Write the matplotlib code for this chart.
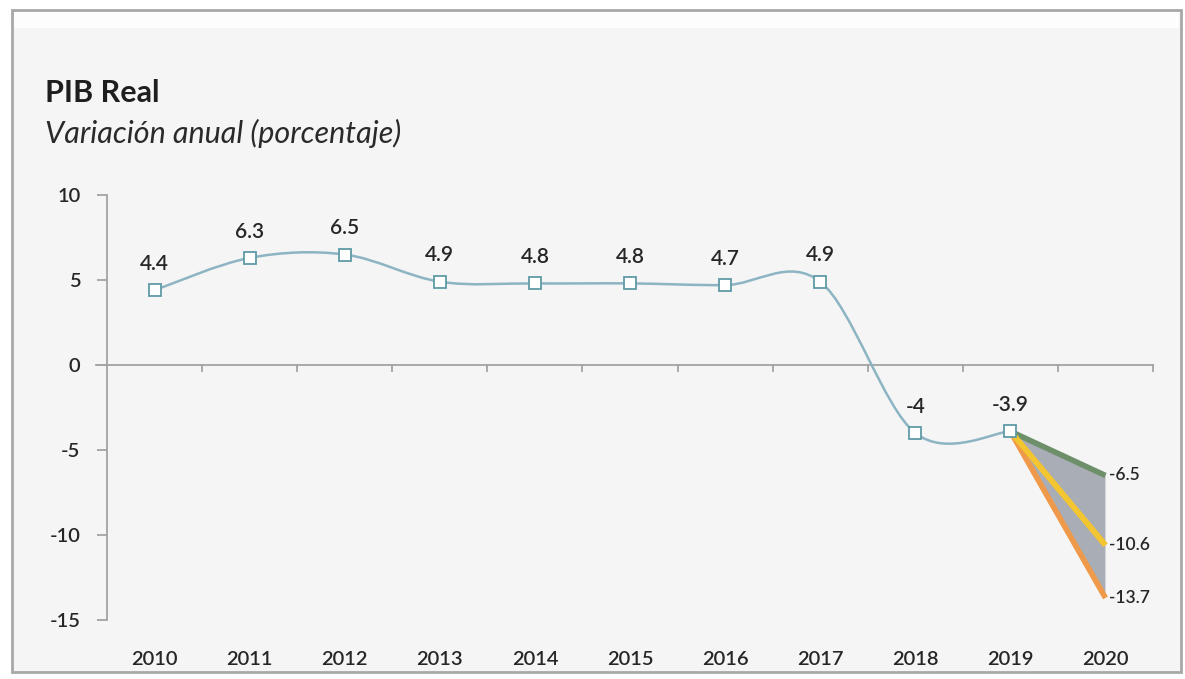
import matplotlib
matplotlib.use("Agg")
import matplotlib.pyplot as plt
from matplotlib.path import Path
from matplotlib.patches import PathPatch, Rectangle, Polygon
import numpy as np

# ---- data ----
years = ["2010", "2011", "2012", "2013", "2014", "2015", "2016", "2017", "2018", "2019", "2020"]
pib = [4.4, 6.3, 6.5, 4.9, 4.8, 4.8, 4.7, 4.9, -4.0, -3.9]
labels = ["4.4", "6.3", "6.5", "4.9", "4.8", "4.8", "4.7", "4.9", "-4", "-3.9"]
scen_2020 = [-6.5, -10.6, -13.7]
scen_labels = ["-6.5", "-10.6", "-13.7"]
scen_colors = ["#6d8f6a", "#f2c531", "#ef9a4a"]
yticks = [10, 5, 0, -5, -10, -15]

W, H = 1185, 679
fig = plt.figure(figsize=(W / 100, H / 100), dpi=100, facecolor="white")

# panel frame
fig.patches.append(Rectangle((12 / W, 1 - 672 / H), (1181 - 12) / W, (672 - 10) / H,
                             transform=fig.transFigure, facecolor="#f5f5f5",
                             edgecolor="#a8a8a8", lw=2.0, zorder=-10))
fig.patches.append(Rectangle((14 / W, 1 - 28 / H), (1179 - 14) / W, (28 - 12) / H,
                             transform=fig.transFigure, facecolor="#fdfdfd",
                             edgecolor="none", zorder=-9))

ax = fig.add_axes([107 / W, 1 - 620 / H, (1153 - 107) / W, (620 - 195) / H])
ax.set_zorder(1)
ax.set_facecolor("none")
ax.set_xlim(-0.5, 10.5)
ax.set_ylim(-15, 10)

font = "Lato"
wt = "semibold"
txt_col = "#262626"
axis_col = "#a3a3a3"

# spines
for s in ["top", "right", "bottom"]:
    ax.spines[s].set_visible(False)
ax.spines["left"].set_color(axis_col)
ax.spines["left"].set_linewidth(1.3)

ax.set_yticks(yticks)
ax.set_yticklabels([str(v) for v in yticks], fontsize=14.5, fontfamily=font,
                   fontweight=wt, color=txt_col)
ax.tick_params(axis="y", length=7, width=1.3, color=axis_col, pad=12)
x = np.arange(len(years))
ax.set_xticks(x)
ax.set_xticklabels(years, fontsize=14.5, fontfamily=font, fontweight=wt, color=txt_col)
ax.tick_params(axis="x", length=0, pad=22)

# zero line with boundary ticks
ax.plot([-0.615, 10.5], [0, 0], color=axis_col, lw=1.3, clip_on=False, zorder=2)
for b in np.arange(0.5, 10.6, 1.0):
    ax.plot([b, b], [0, -0.38], color=axis_col, lw=1.3, clip_on=False, zorder=2)

# smooth curve (Catmull-Rom -> cubic Bezier)
xs = x[:len(pib)].astype(float)
ys = np.array(pib)
verts = [(xs[0], ys[0])]
codes = [Path.MOVETO]
n = len(xs)
for i in range(n - 1):
    p0 = (xs[max(i - 1, 0)], ys[max(i - 1, 0)])
    p1 = (xs[i], ys[i])
    p2 = (xs[i + 1], ys[i + 1])
    p3 = (xs[min(i + 2, n - 1)], ys[min(i + 2, n - 1)])
    c1 = (p1[0] + (p2[0] - p0[0]) / 6, p1[1] + (p2[1] - p0[1]) / 6)
    c2 = (p2[0] - (p3[0] - p1[0]) / 6, p2[1] - (p3[1] - p1[1]) / 6)
    verts += [c1, c2, p2]
    codes += [Path.CURVE4] * 3
ax.add_patch(PathPatch(Path(verts, codes), facecolor="none", edgecolor="#8db4c3",
                       lw=1.8, zorder=3))

# scenarios 2020
x19, y19 = xs[-1], ys[-1]
ax.add_patch(Polygon([(x19, y19), (10, scen_2020[0]), (10, scen_2020[2])],
                     closed=True, facecolor="#a8adb6", edgecolor="none", zorder=2))
for v, c in zip(scen_2020, scen_colors):
    ax.plot([x19, 10], [y19, v], color=c, lw=4.0, solid_capstyle="butt", zorder=4)
ax.plot([x19, 10], [y19, scen_2020[1]], color=scen_colors[1], lw=4.0,
        solid_capstyle="butt", zorder=5)
for v, l in zip(scen_2020, scen_labels):
    ax.text(10.04, v, l, fontsize=12.5, fontfamily=font, fontweight=wt, color=txt_col,
            ha="left", va="center")

# markers
ax.plot(xs, ys, linestyle="none", marker="s", markersize=8.5, markerfacecolor="white",
        markeredgecolor="#5e9ba6", markeredgewidth=1.3, zorder=6)

# data labels
for xi, yi, l in zip(xs, ys, labels):
    ax.annotate(l, (xi, yi), xytext=(0, 19), textcoords="offset points",
                ha="center", va="center", fontsize=15, fontfamily=font, fontweight=wt,
                color=txt_col)

# titles
fig.text(45 / W, 1 - 93 / H, "PIB Real", fontsize=22, fontweight="bold",
         fontfamily=font, color="#1e1e1e", ha="left", va="center")
fig.text(45 / W, 1 - 133 / H, "Variación anual (porcentaje)", fontsize=22, fontstyle="italic",
         fontfamily=font, color="#2a2a2a", ha="left", va="center")

fig.savefig("out.png", dpi=100, facecolor="white")
